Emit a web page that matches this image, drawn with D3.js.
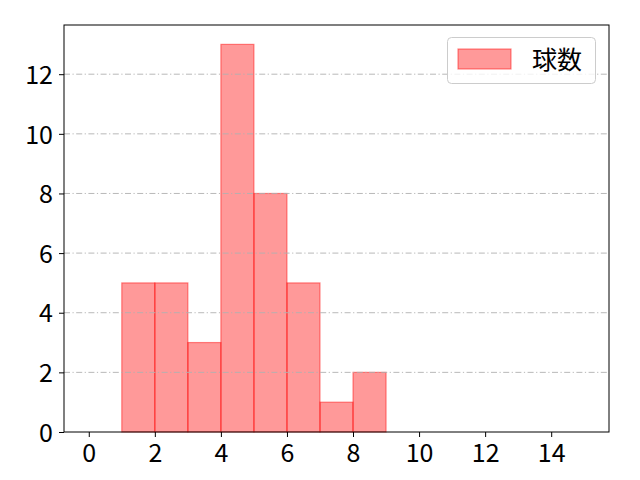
<!DOCTYPE html>
<html><head><meta charset="utf-8">
<script src="https://cdn.jsdelivr.net/npm/d3@7"></script>
<style>body{margin:0;background:#fff}svg{display:block}</style>
</head><body><svg id="c" width="640" height="480"></svg>
<script>
const binStarts = [1,2,3,4,5,6,7,8];
const binCounts = [5,5,3,13,8,5,1,2];
const binWidth = 1;
const xTicks = [0,2,4,6,8,10,12,14];
const yTicks = [0,2,4,6,8,10,12];
const legendLabel = "球数";

const font = "'Noto Sans CJK JP', 'Noto Sans', sans-serif";
const svg = d3.select("#c");
const L=64,R=609,T=25,B=432;
const x = d3.scaleLinear().domain([-0.75,15.75]).range([L,R]);
const y = d3.scaleLinear().domain([0,13.65]).range([B,T]);

const data = binStarts.map((s,i)=>({s,c:binCounts[i]}));
svg.append("g").selectAll("rect").data(data).join("rect")
  .attr("x",d=>x(d.s)).attr("width",d=>x(d.s+binWidth)-x(d.s))
  .attr("y",d=>y(d.c)).attr("height",d=>y(0)-y(d.c))
  .attr("fill","rgba(255,0,0,0.4)").attr("stroke","rgba(255,0,0,0.45)").attr("stroke-width",1.2);

// grid
svg.append("g").selectAll("line").data(yTicks.filter(t=>t>0)).join("line")
  .attr("x1",L).attr("x2",R).attr("y1",d=>y(d)).attr("y2",d=>y(d))
  .attr("stroke","#b0b0b0").attr("stroke-width",0.9).attr("stroke-dasharray","6,2.5,1.2,2.5");

const xa = svg.append("g").attr("transform",`translate(0,${B})`)
  .call(d3.axisBottom(x).tickValues(xTicks).tickSize(5).tickPadding(7).tickFormat(d3.format("d")));
const ya = svg.append("g").attr("transform",`translate(${L},0)`)
  .call(d3.axisLeft(y).tickValues(yTicks).tickSize(5).tickPadding(6).tickFormat(d3.format("d")));
[xa,ya].forEach(a=>{a.select(".domain").remove();
  a.selectAll("text").attr("font-family",font).attr("font-size",25).attr("fill","#000");
  a.selectAll("line").attr("stroke","#000").attr("stroke-width",1);});
xa.selectAll("text").attr("dy","0.71em");
ya.selectAll("text").attr("dy","0.37em");

svg.append("rect").attr("x",L).attr("y",T).attr("width",R-L).attr("height",B-T)
  .attr("fill","none").attr("stroke","#000").attr("stroke-width",1);

// legend
const lg = svg.append("g");
lg.append("rect").attr("x",447.5).attr("y",37.5).attr("width",148).attr("height",46).attr("rx",4)
  .attr("fill","rgba(255,255,255,0.8)").attr("stroke","#cccccc").attr("stroke-width",1);
lg.append("rect").attr("x",458).attr("y",49).attr("width",53).attr("height",20)
  .attr("fill","rgba(255,0,0,0.4)").attr("stroke","rgba(255,0,0,0.45)").attr("stroke-width",1.2);
lg.append("text").attr("x",532).attr("y",68.5).text(legendLabel)
  .attr("font-family",font).attr("font-size",25).attr("fill","#000");
</script></body></html>
